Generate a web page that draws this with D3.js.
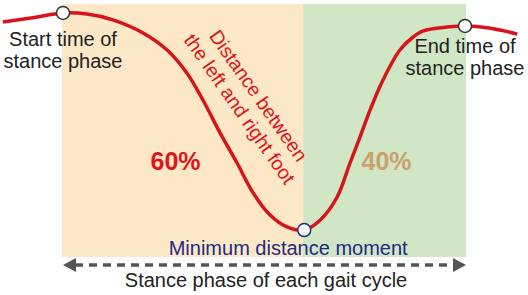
<!DOCTYPE html>
<html lang="en">
<head>
<meta charset="utf-8">
<title>Stance phase</title>
<script src="https://cdn.jsdelivr.net/npm/d3@7"></script>
<style>
  body { margin: 0; background: #fff; }
  text { font-family: "Liberation Sans", Arial, sans-serif; }
</style>
</head>
<body>
<script>
// gait cycle position (% of stance phase) and foot distance (relative units)
var cyclePct = [-15, -8, 0, 6, 12.4, 19.9, 25.9, 30.8, 34.8, 39.1, 43.3, 47.3, 51.5, 55.7, 60,
                64, 68.2, 71.4, 73.9, 76.4, 79.6, 83.8, 87.1, 89.6, 95.5, 100, 106, 113];
var distance = [94.7, 96.4, 98.7, 98.2, 95.6, 89.8, 82.2, 72, 60, 45.3, 32, 18.7, 8.9, 3.6, 2.2,
                6.7, 16.9, 32, 43.6, 55.6, 68.9, 82.2, 88, 90.7, 92.4, 92.9, 92, 89.3];

// phase split
var phaseNames = ["60%", "40%"];
var phaseStart = [0, 60];
var phaseEnd = [60, 100];

// marked moments
var eventPct = [0, 60, 100];
var eventDist = [98.7, 2.2, 92.9];

var width = 528, height = 295;

var svg = d3.select("body").append("svg")
    .attr("width", width)
    .attr("height", height);

var x = d3.scaleLinear().domain([0, 100]).range([63, 465]);
var y = d3.scaleLinear().domain([0, 100]).range([235, 10]);

// phase backgrounds
var phaseFill = ["#fce8c6", "#d0e6c4"];
var phaseText = ["#dd1520", "#cca26c"];
svg.selectAll("rect.phase")
    .data(phaseNames)
    .enter().append("rect")
    .attr("class", "phase")
    .attr("x", function(d, i) { return x(phaseStart[i]) - 1; })
    .attr("width", function(d, i) { return x(phaseEnd[i]) - x(phaseStart[i]) + (i == 0 ? 1 : 2); })
    .attr("y", 4)
    .attr("height", 253)
    .attr("fill", function(d, i) { return phaseFill[i]; });

// percentage labels
var labelShift = [-8, 2];
svg.selectAll("text.pct")
    .data(phaseNames)
    .enter().append("text")
    .attr("class", "pct")
    .attr("x", function(d, i) { return x((phaseStart[i] + phaseEnd[i]) / 2) + labelShift[i]; })
    .attr("y", 170)
    .attr("text-anchor", "middle")
    .attr("font-size", 25)
    .attr("font-weight", "bold")
    .attr("fill", function(d, i) { return phaseText[i]; })
    .text(function(d) { return d; });

// the distance curve
var pts = cyclePct.map(function(c, i) { return [c, distance[i]]; });
var line = d3.line()
    .x(function(d) { return x(d[0]); })
    .y(function(d) { return y(d[1]); })
    .curve(d3.curveCatmullRom);

svg.append("path")
    .attr("d", line(pts))
    .attr("fill", "none")
    .attr("stroke", "#d7141b")
    .attr("stroke-width", 3.5);

// rotated curve label
var lab = svg.append("g")
    .attr("transform", "translate(248,103) rotate(55)");
lab.append("text").attr("y", -6).attr("text-anchor", "middle")
    .attr("font-size", 19.5).attr("fill", "#dd1520").text("Distance between");
lab.append("text").attr("y", 17).attr("text-anchor", "middle")
    .attr("font-size", 19.5).attr("fill", "#dd1520").text("the left and right foot");

// event circles
svg.selectAll("circle.ev")
    .data(eventPct)
    .enter().append("circle")
    .attr("class", "ev")
    .attr("cx", function(d) { return x(d); })
    .attr("cy", function(d, i) { return y(eventDist[i]); })
    .attr("r", 6.5)
    .attr("fill", "#fff")
    .attr("stroke", function(d, i) { return i == 1 ? "#1d2b85" : "#333"; })
    .attr("stroke-width", 1.5);

// start / end labels
function twoLines(cx, y0, a, b) {
    svg.append("text").attr("x", cx).attr("y", y0).attr("text-anchor", "middle")
        .attr("font-size", 20).attr("fill", "#222").text(a);
    svg.append("text").attr("x", cx).attr("y", y0 + 22).attr("text-anchor", "middle")
        .attr("font-size", 20).attr("fill", "#222").text(b);
}
twoLines(x(0), 46, "Start time of", "stance phase");
twoLines(x(100), 53, "End time of", "stance phase");

svg.append("text")
    .attr("x", x(60) - 16)
    .attr("y", 255)
    .attr("text-anchor", "middle")
    .attr("font-size", 20)
    .attr("fill", "#1d2b85")
    .text("Minimum distance moment");

// dashed double arrow
var ay = 265;
svg.append("line")
    .attr("x1", x(0) + 12).attr("x2", x(100) - 12)
    .attr("y1", ay).attr("y2", ay)
    .attr("stroke", "#555")
    .attr("stroke-width", 3.5)
    .attr("stroke-dasharray", "8,6");
svg.append("path")
    .attr("d", "M" + x(0) + "," + ay + "L" + (x(0) + 13) + "," + (ay - 7) + "L" + (x(0) + 13) + "," + (ay + 7) + "Z")
    .attr("fill", "#555");
svg.append("path")
    .attr("d", "M" + (x(100) + 1) + "," + ay + "L" + (x(100) - 12) + "," + (ay - 7) + "L" + (x(100) - 12) + "," + (ay + 7) + "Z")
    .attr("fill", "#555");

svg.append("text")
    .attr("x", 266)
    .attr("y", 287)
    .attr("text-anchor", "middle")
    .attr("font-size", 20)
    .attr("fill", "#222")
    .text("Stance phase of each gait cycle");
</script>
</body>
</html>
